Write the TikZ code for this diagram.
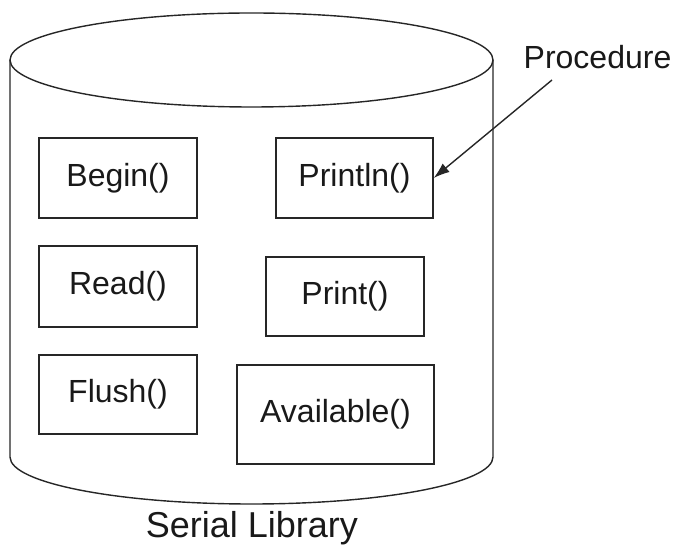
\documentclass[tikz,border=0pt]{standalone}
\usepackage{fontspec}
\setmainfont{Liberation Sans}
\usetikzlibrary{arrows.meta}
\begin{document}
\begin{tikzpicture}[x=1pt,y=1pt,
  outline/.style={draw=black!85, line width=1.4pt},
  proc/.style={outline, rectangle, inner sep=0pt, font=\fontsize{32}{36}\selectfont, text=black!90},
  lbl/.style={font=\fontsize{32}{36}\selectfont, text=black!90, inner sep=0pt}]
\useasboundingbox (0,0) rectangle (676,548);
% cylinder
\draw[outline] (251.5,488) ellipse [x radius=241.5, y radius=47];
\draw[outline] (10,488) -- (10,91) arc [start angle=180, end angle=360, x radius=241.5, y radius=47] -- (493,488);
% procedures
\node[proc, minimum width=158, minimum height=80] (begin) at (118,370) {Begin()};
\node[proc, minimum width=158, minimum height=81] (read) at (118,261.5) {Read()};
\node[proc, minimum width=158, minimum height=79] (flush) at (118,153.5) {Flush()};
\node[proc, minimum width=157, minimum height=80] (println) at (354.5,370) {Println()};
\node[proc, minimum width=158, minimum height=79] (print) at (345,251.5) {Print()};
\node[proc, minimum width=197, minimum height=99] (avail) at (335.5,133.5) {Available()};
% labels
\node[lbl, anchor=base] (procedure) at (597.5,479) {Procedure};
\node[lbl, anchor=base, font=\fontsize{36}{40}\selectfont] (serial) at (252,11) {Serial Library};
\coordinate (tail) at (552,468);
\draw[outline, -{Latex[length=16pt,width=11pt]}] (tail) -- (println.east);
\end{tikzpicture}
\end{document}
